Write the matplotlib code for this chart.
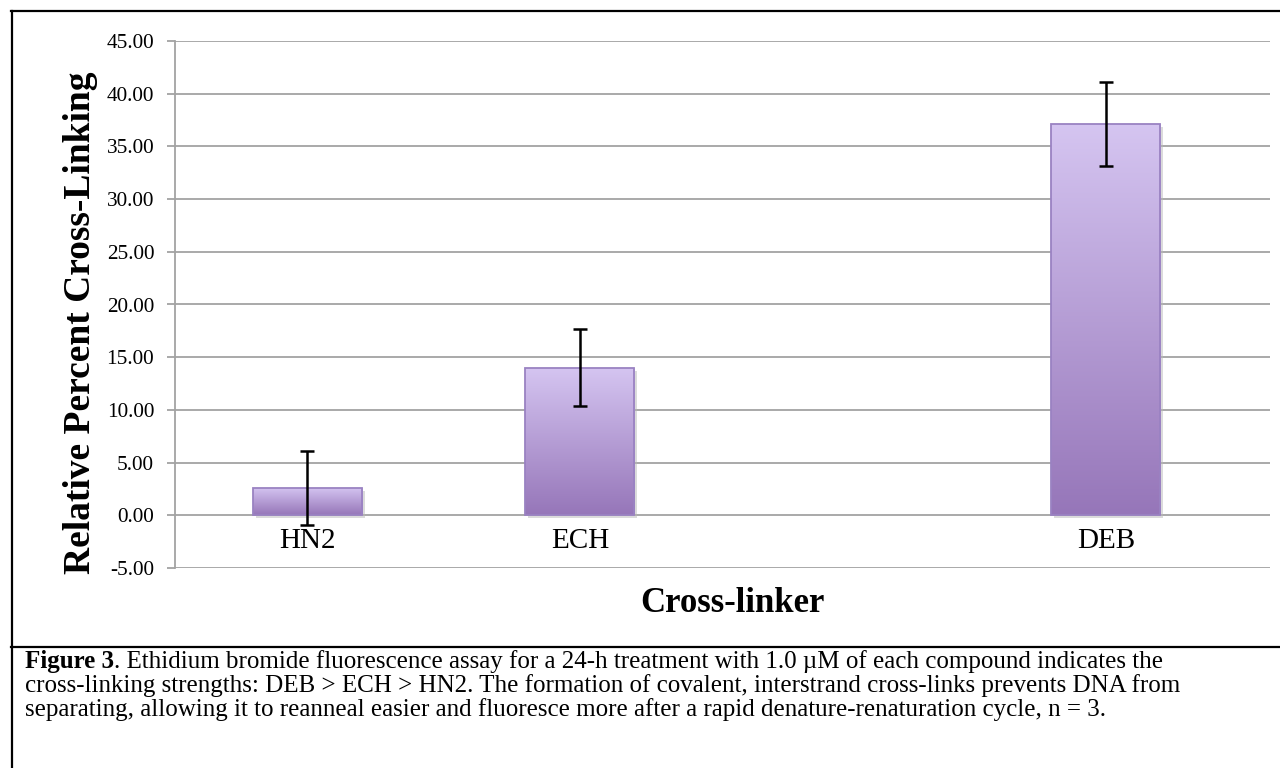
import numpy as np
import matplotlib.pyplot as plt
from matplotlib.lines import Line2D
from matplotlib.colors import LinearSegmentedColormap
import matplotlib.patheffects as pe

# =========================
# DATA
# =========================
categories = ["HN2", "ECH", "DEB"]
values = [2.6, 14.0, 37.1]
errors = [3.5, 3.65, 4.0]
y_ticks = [-5, 0, 5, 10, 15, 20, 25, 30, 35, 40, 45]

caption_bold = "Figure 3"
caption_lines = [
    ". Ethidium bromide fluorescence assay for a 24-h treatment with 1.0 \u00b5M of each compound indicates the",
    "cross-linking strengths: DEB > ECH > HN2. The formation of covalent, interstrand cross-links prevents DNA from",
    "separating, allowing it to reanneal easier and fluoresce more after a rapid denature-renaturation cycle, n = 3.",
]

# =========================
# STYLE
# =========================
plt.rcParams.update({
    "font.family": "Liberation Serif",
    "font.size": 15,
})

W, H = 1280, 768
fig = plt.figure(figsize=(W / 100, H / 100), dpi=100)
ax = fig.add_axes([175 / W, 1 - 568 / H, (1270 - 175) / W, (568 - 41) / H])

grid_col = "#a3a3a3"
x_pos = [0, 1, 2.93]   # layout: where each category sits on the axis
bar_w = 0.4

bar_cmap = LinearSegmentedColormap.from_list("lav", ["#9676b9", "#d5c5f1"])
grad = np.linspace(0, 1, 256).reshape(-1, 1)

bars = ax.bar(x_pos, values, width=bar_w, facecolor="none",
              edgecolor="#9a82c2", linewidth=1.3, zorder=3)
for b in bars:
    x0, y0 = b.get_x(), b.get_y()
    w, h = b.get_width(), b.get_height()
    # soft drop shadow
    sh = plt.Rectangle((x0, y0), w, h, facecolor="#d0d0d0", edgecolor="none",
                       zorder=2, alpha=0.5,
                       path_effects=[pe.SimplePatchShadow(offset=(2, -2), shadow_rgbFace="#b8b8b8", alpha=0.5)])
    ax.add_patch(sh)
    im = ax.imshow(grad, cmap=bar_cmap, aspect="auto", origin="lower",
                   extent=(x0, x0 + w, y0, y0 + h), zorder=2.5)
    im.set_clip_path(b)

ax.errorbar(x_pos, values, yerr=errors, fmt="none", ecolor="black",
            elinewidth=1.8, capsize=4.8, capthick=1.8, zorder=4)

# category labels sit just under the zero line
for xp, cat in zip(x_pos, categories):
    ax.text(xp, -2.45, cat, ha="center", va="center", fontsize=21, zorder=5)

ax.set_xlim(-0.486, 3.532)
ax.set_ylim(-5, 45)
ax.set_yticks(y_ticks)
ax.set_yticklabels([f"{t:.2f}" for t in y_ticks])
ax.set_xticks([])
ax.tick_params(axis="y", length=6, width=1.3, color=grid_col, pad=9, labelsize=15.3)

for s in ["top", "right", "bottom"]:
    ax.spines[s].set_visible(False)
ax.spines["left"].set_color(grid_col)
ax.spines["left"].set_linewidth(1.3)

ax.yaxis.grid(True, color=grid_col, linewidth=1.3)
ax.set_axisbelow(True)

fig.text(81 / W, 1 - 323 / H, "Relative Percent Cross-Linking", rotation=90,
         ha="center", va="center", fontsize=27, fontweight="bold")
fig.text(732 / W, 1 - 604 / H, "Cross-linker", ha="center", va="center",
         fontsize=25, fontweight="bold")

# =========================
# FRAME + CAPTION
# =========================
def px_line(xs, ys, lw):
    fig.add_artist(Line2D([x / W for x in xs], [1 - y / H for y in ys],
                          color="black", linewidth=lw, transform=fig.transFigure))

px_line([12, 12], [11, H + 5], 1.6)
px_line([11, W + 5], [11, 11], 1.6)
px_line([11, W + 5], [647, 647], 1.6)

cap_fs = 18
baselines = [668, 692, 716]
t = fig.text(25 / W, 1 - baselines[0] / H, caption_bold, ha="left", va="baseline",
             fontsize=cap_fs, fontweight="bold")
fig.canvas.draw()
bb = t.get_window_extent()
fig.text(bb.x1 / W, 1 - baselines[0] / H, caption_lines[0], ha="left", va="baseline", fontsize=cap_fs)
fig.text(25 / W, 1 - baselines[1] / H, caption_lines[1], ha="left", va="baseline", fontsize=cap_fs)
fig.text(25 / W, 1 - baselines[2] / H, caption_lines[2], ha="left", va="baseline", fontsize=cap_fs)

fig.savefig("out.png", dpi=100)
